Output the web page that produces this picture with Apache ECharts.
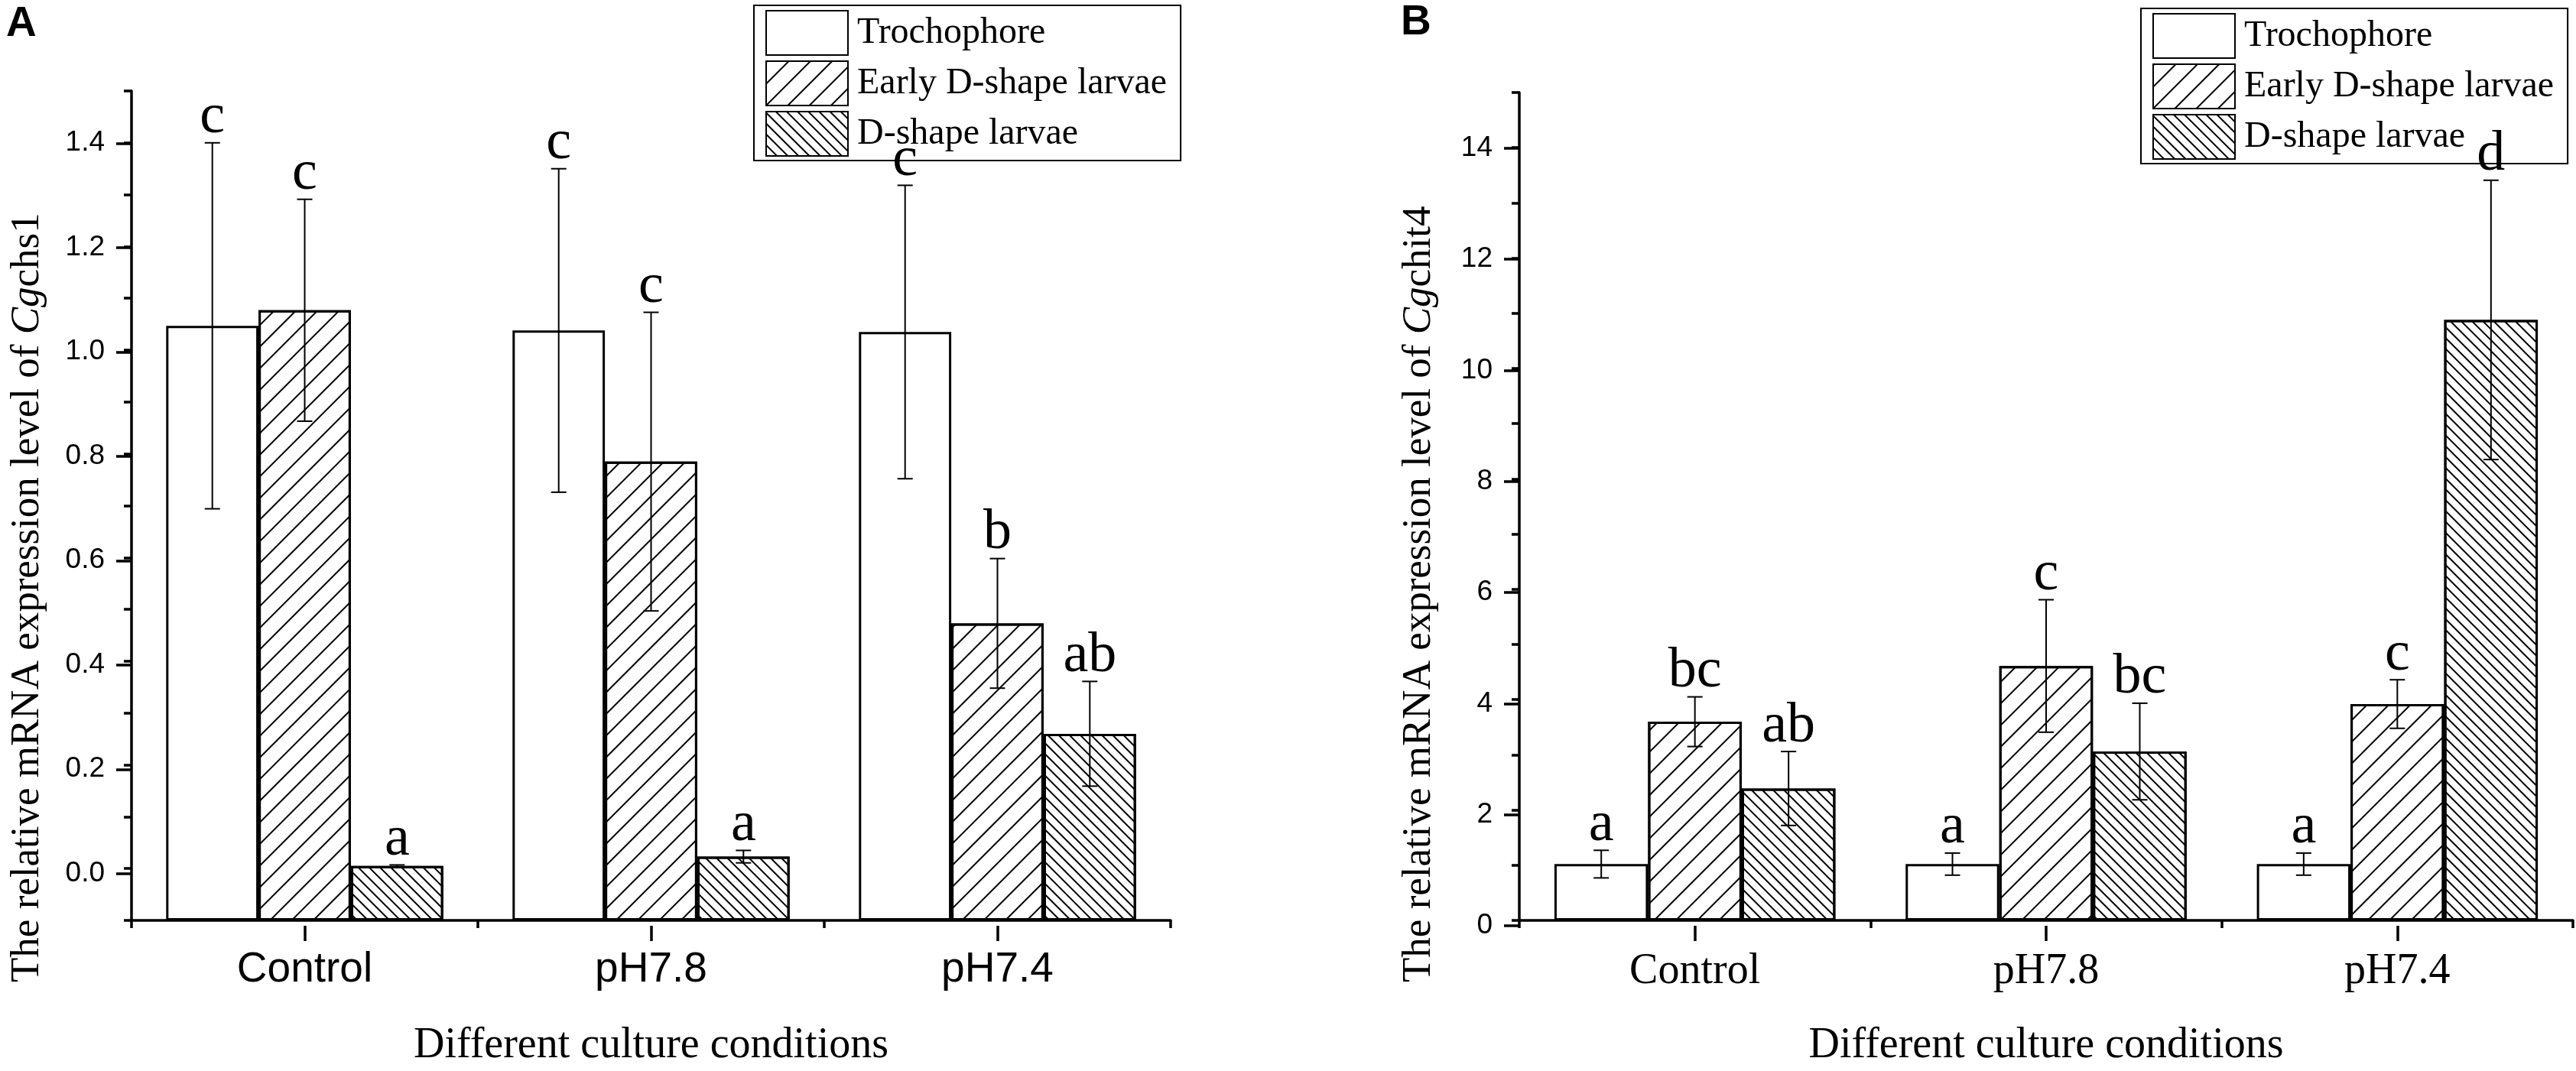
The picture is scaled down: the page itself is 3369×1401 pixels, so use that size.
<!DOCTYPE html>
<html>
<head>
<meta charset="utf-8">
<script src="https://cdn.jsdelivr.net/npm/echarts@6/dist/echarts.min.js"></script>
<style>
  html, body { margin: 0; padding: 0; background: #fff; }
  #chart { width: 3369px; height: 1401px; }
</style>
</head>
<body>
<div id="chart"></div>
<script>
// Categories
const conditions = ['Control', 'pH7.8', 'pH7.4'];
const stages = ['Trochophore', 'Early D-shape larvae', 'D-shape larvae'];

// Panel A - Cgchs1 (mean and SD per stage, one value per condition)
const chsTrochophore = [1.047, 1.038, 1.035];
const chsTrochophoreSd = [0.353, 0.312, 0.283];
const chsEarlyD = [1.077, 0.785, 0.473];
const chsEarlyDSd = [0.214, 0.288, 0.125];
const chsDShape = [0.005, 0.023, 0.26];
const chsDShapeSd = [0.002, 0.012, 0.101];
const chsLetters = [['c', 'c', 'c'], ['c', 'c', 'b'], ['a', 'a', 'ab']];

// Panel B - Cgchit4
const chitTrochophore = [1.02, 1.02, 1.02];
const chitTrochophoreSd = [0.25, 0.2, 0.2];
const chitEarlyD = [3.6, 4.61, 3.92];
const chitEarlyDSd = [0.45, 1.2, 0.44];
const chitDShape = [2.39, 3.06, 10.88];
const chitDShapeSd = [0.67, 0.875, 2.53];
const chitLetters = [['a', 'a', 'a'], ['bc', 'c', 'c'], ['ab', 'bc', 'd']];

// Tick labels
const chsTicks = [0, 0.2, 0.4, 0.6, 0.8, 1.0, 1.2, 1.4];
const chitTicks = [0, 2, 4, 6, 8, 10, 12, 14];

const SERIF = '"Liberation Serif", "Times New Roman", serif';
const SANS = '"Liberation Sans", Arial, sans-serif';
const BLACK = '#000';
const CAT_GAP = 0.2;

// hatch fills: none, sparse "/", dense "\"
const decals = [
    null,
    { symbol: 'rect', symbolSize: 1, dashArrayX: [1, 0], dashArrayY: [2, 18], rotation: -Math.PI / 4, color: BLACK },
    { symbol: 'rect', symbolSize: 1, dashArrayX: [1, 0], dashArrayY: [2, 7.5], rotation: Math.PI / 4, color: BLACK }
];

const panels = [
    {
        means: [chsTrochophore, chsEarlyD, chsDShape],
        sds: [chsTrochophoreSd, chsEarlyDSd, chsDShapeSd],
        letters: chsLetters,
        ticks: chsTicks,
        min: -0.1, max: 1.5, minorStep: 0.1, digits: 1,
        left: 172, top: 119, width: 1359, height: 1092,
        catFont: SANS, catSize: 55, catMargin: 30,
        legendLeft: 986, legendTop: 7
    },
    {
        means: [chitTrochophore, chitEarlyD, chitDShape],
        sds: [chitTrochophoreSd, chitEarlyDSd, chitDShapeSd],
        letters: chitLetters,
        ticks: chitTicks,
        min: 0, max: 15, minorStep: 1, digits: 0,
        left: 1987, top: 121, width: 1378, height: 1090,
        catFont: SERIF, catSize: 56, catMargin: 32,
        legendLeft: 2800, legendTop: 11
    }
];

const grid = [], xAxis = [], yAxis = [], series = [], legend = [];

panels.forEach((p, pi) => {
    const unit = p.height / (p.max - p.min);
    const tMin = p.ticks[0], tMax = p.ticks[p.ticks.length - 1];
    const step = p.ticks[1] - p.ticks[0];
    const mainIdx = pi * 2, labelIdx = pi * 2 + 1;
    const labelTop = p.top + (p.max - tMax) * unit;
    const labelHeight = (tMax - tMin) * unit;
    const labelOffset = (tMin - p.min) * unit;

    // main grid holds the bars, second grid only carries the labelled ticks
    grid.push({ left: p.left, top: p.top, width: p.width, height: p.height });
    grid.push({ left: p.left, top: labelTop, width: p.width, height: labelHeight });

    const lineStyle = { color: BLACK, width: 3.5 };

    xAxis.push({
        gridIndex: mainIdx, type: 'category', data: conditions,
        axisLine: { show: true, onZero: false, lineStyle },
        axisTick: { show: true, length: 10, lineStyle },
        axisLabel: { show: false },
        splitLine: { show: false },
        name: 'Different culture conditions', nameLocation: 'middle', nameGap: 136,
        nameTextStyle: { fontFamily: SERIF, fontSize: 56, color: BLACK }
    });
    xAxis.push({
        gridIndex: labelIdx, type: 'category', data: conditions, position: 'bottom',
        offset: labelOffset,
        axisLine: { show: false, onZero: false },
        axisTick: { show: true, alignWithLabel: true, length: 20, lineStyle },
        axisLabel: { show: true, fontFamily: p.catFont, fontSize: p.catSize, color: BLACK, margin: p.catMargin },
        splitLine: { show: false }
    });

    yAxis.push({
        gridIndex: mainIdx, type: 'value', min: p.min, max: p.max, interval: p.minorStep,
        startValue: p.min,
        axisLine: { show: true, onZero: false, lineStyle },
        axisTick: { show: true, length: 10, lineStyle },
        axisLabel: { show: false },
        splitLine: { show: false }
    });
    yAxis.push({
        gridIndex: labelIdx, type: 'value', min: tMin, max: tMax, interval: step,
        axisLine: { show: false, onZero: false },
        axisTick: { show: true, length: 20, lineStyle },
        axisLabel: {
            show: true, fontFamily: SANS, fontSize: 37, color: BLACK, margin: 35,
            formatter: v => v.toFixed(p.digits)
        },
        splitLine: { show: false }
    });

    stages.forEach((name, si) => {
        series.push({
            name: name, type: 'bar',
            xAxisIndex: mainIdx, yAxisIndex: mainIdx,
            data: p.means[si],
            barGap: '0%', barCategoryGap: (CAT_GAP * 100) + '%',
            itemStyle: {
                color: '#fff', borderColor: BLACK, borderWidth: 3,
                decal: decals[si] || undefined
            },
            z: 2
        });
        // error bars and significance letters
        series.push({
            type: 'custom',
            xAxisIndex: mainIdx, yAxisIndex: mainIdx,
            data: conditions.map((c, ci) => [ci, p.means[si][ci], p.sds[si][ci]]),
            encode: { x: 0, y: 1 },
            z: 5, silent: true,
            renderItem: function (params, api) {
                const ci = api.value(0), mean = api.value(1), sd = api.value(2);
                const band = api.size([1, 0])[0];
                const bw = band * (1 - CAT_GAP) / stages.length;
                const x = api.coord([ci, mean])[0] + (si - 1) * bw;
                const yHi = api.coord([ci, mean + sd])[1];
                const yLo = api.coord([ci, mean - sd])[1];
                const half = 10;
                const style = { stroke: BLACK, lineWidth: 2 };
                return {
                    type: 'group',
                    children: [
                        { type: 'line', shape: { x1: x, y1: yHi, x2: x, y2: yLo }, style },
                        { type: 'line', shape: { x1: x - half, y1: yHi, x2: x + half, y2: yHi }, style },
                        { type: 'line', shape: { x1: x - half, y1: yLo, x2: x + half, y2: yLo }, style },
                        {
                            type: 'text', x: x, y: yHi + 4,
                            style: {
                                text: p.letters[si][params.dataIndex],
                                fill: BLACK, fontFamily: SERIF, fontSize: 74,
                                align: 'center', verticalAlign: 'bottom'
                            }
                        }
                    ]
                };
            }
        });
    });

    legend.push({
        data: stages, orient: 'vertical', left: p.legendLeft, top: p.legendTop,
        icon: 'rect',
        itemWidth: 107, itemHeight: 58, itemGap: 6,
        padding: [6, 18, 5, 15],
        borderColor: BLACK, borderWidth: 2, backgroundColor: '#fff',
        selectedMode: false,
        textStyle: { fontFamily: SERIF, fontSize: 48, color: BLACK, padding: [0, 0, 0, 7] }
    });
});

const richName = {
    n: { fontFamily: SERIF, fontSize: 53, fill: BLACK },
    i: { fontFamily: SERIF, fontSize: 53, fontStyle: 'italic', fill: BLACK }
};

const graphic = [
    { type: 'text', left: 8, top: 4, style: { text: 'A', fontFamily: SANS, fontWeight: 'bold', fontSize: 55, fill: BLACK } },
    { type: 'text', left: 1832, top: 2, style: { text: 'B', fontFamily: SANS, fontWeight: 'bold', fontSize: 55, fill: BLACK } },
    {
        type: 'text', x: 63, y: 1285, rotation: Math.PI / 2,
        style: {
            text: '{n|The relative mRNA expression level of }{i|Cg}{n|chs1}', rich: richName,
            fontFamily: SERIF, fontSize: 53, align: 'left', verticalAlign: 'bottom'
        }
    },
    {
        type: 'text', x: 1883, y: 1285, rotation: Math.PI / 2,
        style: {
            text: '{n|The relative mRNA expression level of }{i|Cg}{n|chit4}', rich: richName,
            fontFamily: SERIF, fontSize: 53, align: 'left', verticalAlign: 'bottom'
        }
    }
];

const chart = echarts.init(document.getElementById('chart'));
chart.setOption({
    backgroundColor: '#fff',
    animation: false,
    grid: grid,
    xAxis: xAxis,
    yAxis: yAxis,
    legend: legend,
    series: series,
    graphic: graphic
});
</script>
</body>
</html>
